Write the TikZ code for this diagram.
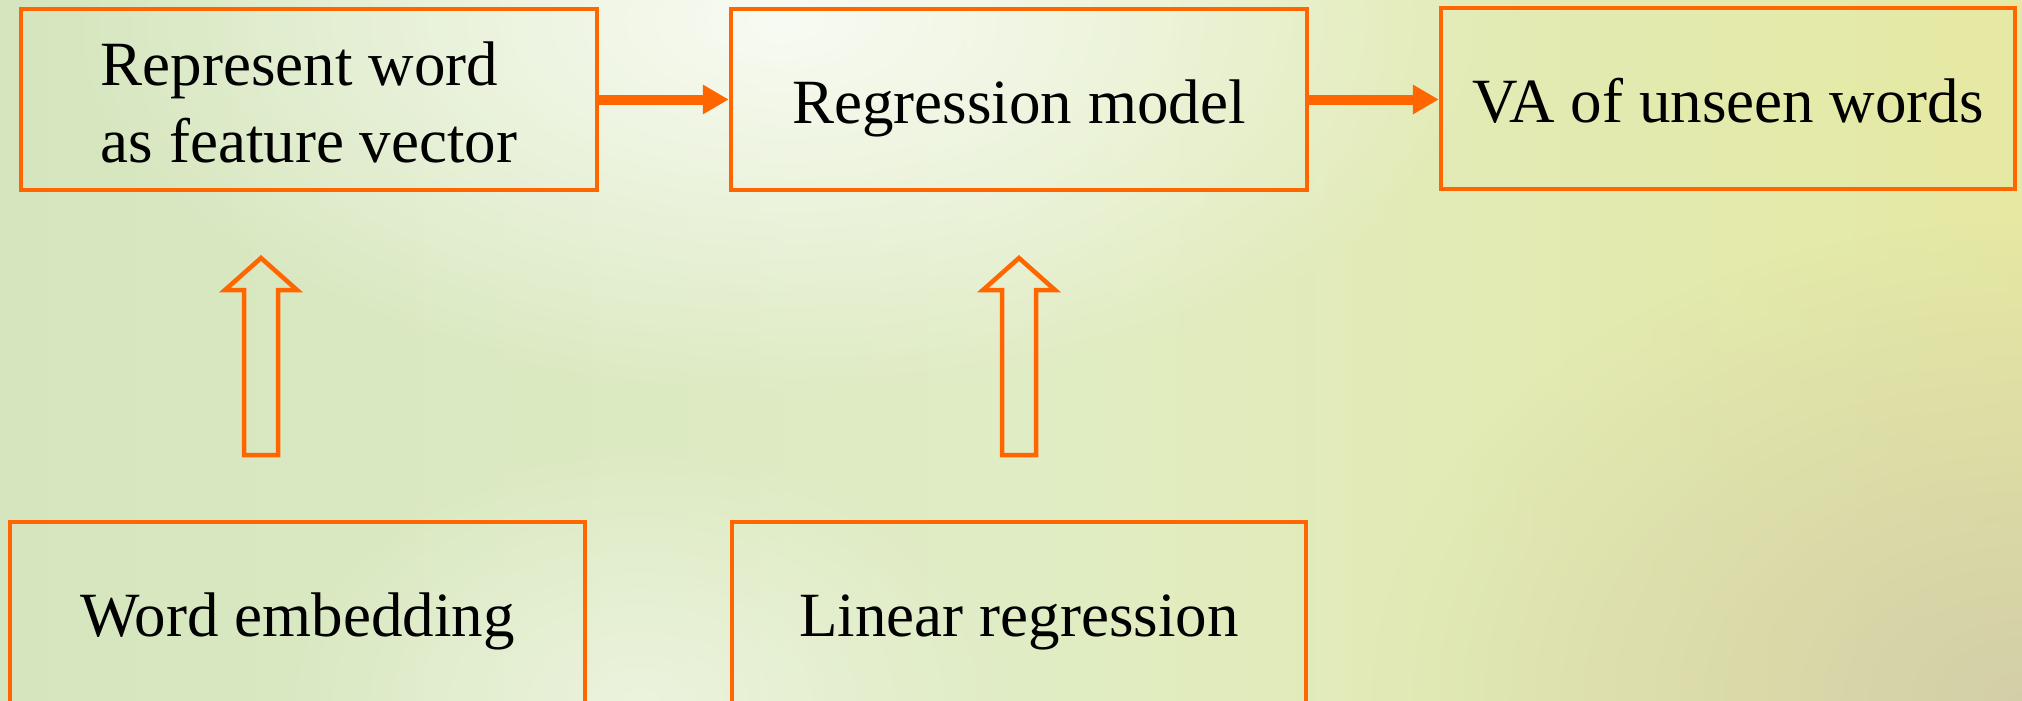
\documentclass[tikz,border=0pt]{standalone}
\usepackage{fontspec}
\setmainfont{Liberation Serif}
\usetikzlibrary{arrows.meta,fadings}
\definecolor{org}{RGB}{255,102,0}
\definecolor{bgL}{RGB}{213,230,190}
\definecolor{bgM}{RGB}{224,236,196}
\definecolor{bgR}{RGB}{229,233,162}
\definecolor{bgTan}{RGB}{210,205,168}
\tikzfading[name=myglow, inner color=transparent!0, outer color=transparent!100]
\begin{document}
\begin{tikzpicture}[x=1pt,y=-1pt,
  box/.style={draw=org, line width=4.5pt, rectangle, inner sep=0pt,
    font=\fontsize{63}{77}\selectfont, text depth=0pt},
  toprow/.style={box, minimum height=181pt, text height=47pt},
  botrow/.style={box, minimum height=188pt, text height=40pt},
  conn/.style={draw=org, line width=10pt, -{Triangle[length=26pt,width=28pt]}},
  blockarrow/.style={draw=org, line width=4.5pt, line join=miter}]
\useasboundingbox (0,0) rectangle (2022,701);
\clip (0,0) rectangle (2022,701);
% background
\shade[left color=bgL, right color=bgR, middle color=bgM] (0,0) rectangle (2022,701);
\fill[white, opacity=0.8, path fading=myglow] (780,20) ellipse (720pt and 380pt);
\fill[white, opacity=0.45, path fading=myglow] (640,701) ellipse (380pt and 260pt);
\fill[bgTan, opacity=0.95, path fading=myglow] (2022,701) ellipse (650pt and 480pt);
% boxes
\node[toprow, minimum width=576pt, align=left, text height=125pt] (b1) at (309,99.5)
  {Represent word\\as feature vector};
\node[toprow, minimum width=576pt] (b2) at (1019,99.5) {Regression model};
\node[toprow, minimum width=574pt] (b3) at (1728,98.5) {VA of unseen words};
\node[botrow, minimum width=575pt] (b4) at (297.5,616) {Word embedding};
\node[botrow, minimum width=574pt] (b5) at (1019,616) {Linear regression};
% connectors
\draw[conn] (b1.east) -- (b1.east -| b2.west);
\draw[conn] (b2.east) -- (b2.east -| b3.west);
% block arrows
\foreach \c/\n in {261/a1, 1019/a2}{
  \coordinate (\n) at (\c,455);
  \draw[blockarrow] (\c,258) -- (\c+36,290) -- (\c+17,290) -- (\c+17,455)
    -- (\c-17,455) -- (\c-17,290) -- (\c-36,290) -- cycle;
}
\end{tikzpicture}
\end{document}
